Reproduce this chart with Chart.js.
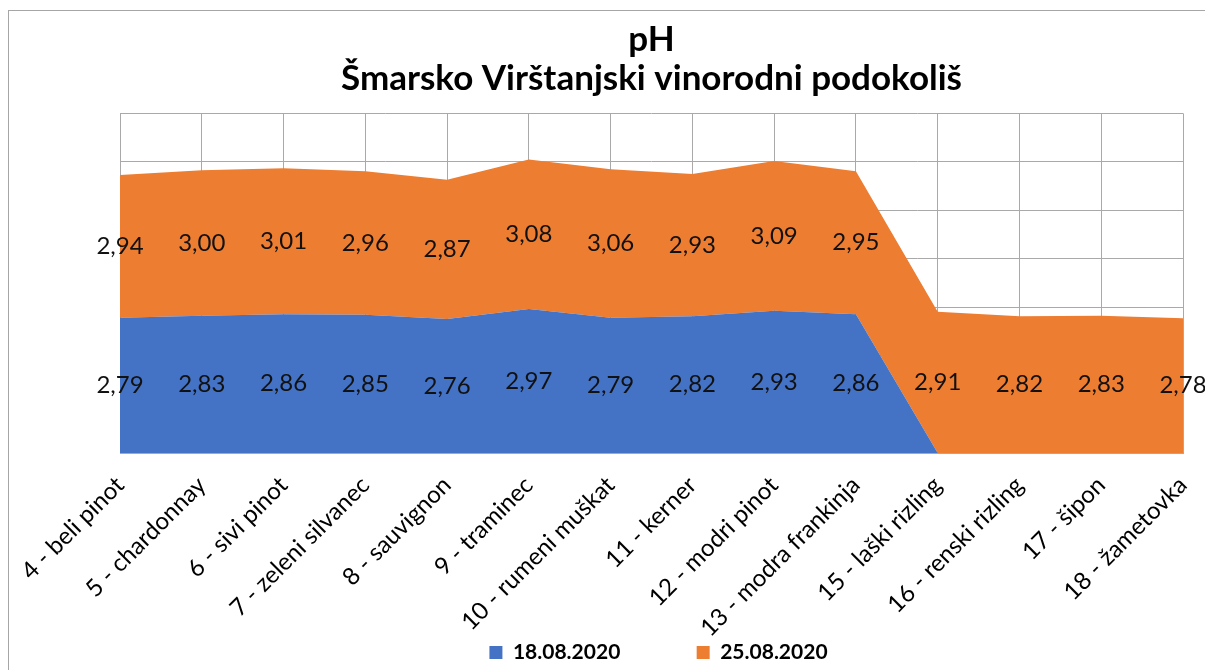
<!DOCTYPE html>
<html>
<head>
<meta charset="utf-8">
<script src="https://cdn.jsdelivr.net/npm/chart.js@4.4.1/dist/chart.umd.min.js"></script>
<style>
  html, body { margin: 0; padding: 0; background: #fff; overflow: hidden; }
  #frame {
    position: absolute; left: 8px; top: 10px;
    width: 1400px; height: 900px;
    border: 1px solid #a6a6a6;
  }
  #pH { position: absolute; left: 0; top: 0; }
</style>
</head>
<body>
<div id="frame"></div>
<canvas id="pH" width="1205" height="670"></canvas>
<script>
const categories = [
  "4 - beli pinot", "5 - chardonnay", "6 - sivi pinot", "7 - zeleni silvanec",
  "8 - sauvignon", "9 - traminec", "10 - rumeni muškat", "11 - kerner",
  "12 - modri pinot", "13 - modra frankinja", "15 - laški rizling",
  "16 - renski rizling", "17 - šipon", "18 - žametovka",
];
const seriesNames = ["18.08.2020", "25.08.2020"];
const ph1808 = [2.79, 2.83, 2.86, 2.85, 2.76, 2.97, 2.79, 2.82, 2.93, 2.86, 0, 0, 0, 0];
const ph2508 = [2.94, 3.00, 3.01, 2.96, 2.87, 3.08, 3.06, 2.93, 3.09, 2.95, 2.91, 2.82, 2.83, 2.78];

const BLUE = "#4472c4";
const ORANGE = "#ed7d31";
const GRID = "#a9a9a9";
const FONT = "Lato, 'Open Sans', sans-serif";

// value labels in the middle of every stacked band
const bandLabels = {
  id: "bandLabels",
  afterLayout(chart) {
    // legend sits a little right of centre in the original
    chart.legend.left += 7;
    chart.legend.right += 7;
  },
  beforeDraw(chart) {
    // let the rotated category names run below the axis box
    chart.scales.x._computeLabelArea = () => undefined;
  },
  afterDatasetsDraw(chart) {
    const ctx = chart.ctx;
    const y = chart.scales.y;
    ctx.save();
    ctx.font = "24px " + FONT;
    ctx.fillStyle = "#111";
    ctx.textAlign = "center";
    ctx.textBaseline = "middle";
    chart.data.datasets.forEach((ds, i) => {
      const meta = chart.getDatasetMeta(i);
      ds.data.forEach((v, j) => {
        if (!v) return;
        let base = 0;
        for (let k = 0; k < i; k++) base += chart.data.datasets[k].data[j];
        const py = y.getPixelForValue(base + v / 2);
        ctx.fillText(v.toFixed(2).replace(".", ","), meta.data[j].x, py);
      });
    });
    ctx.restore();
  },
};

new Chart(document.getElementById("pH"), {
  type: "line",
  data: {
    labels: categories,
    datasets: [
      {
        label: seriesNames[0] + "             ",
        data: ph1808,
        backgroundColor: BLUE,
        borderWidth: 0,
        fill: "origin",
        pointRadius: 0,
        tension: 0,
      },
      {
        label: seriesNames[1],
        data: ph2508,
        backgroundColor: ORANGE,
        borderWidth: 0,
        fill: "-1",
        pointRadius: 0,
        tension: 0,
      },
    ],
  },
  options: {
    responsive: false,
    animation: false,
    layout: { padding: { left: 120, right: 22, top: 8, bottom: -3 } },
    scales: {
      x: {
        grid: { color: GRID, drawTicks: false },
        border: { color: GRID },
        ticks: {
          autoSkip: false,
          minRotation: 45,
          maxRotation: 45,
          padding: 18,
          color: "#000",
          font: { family: FONT, size: 24 },
        },
        afterFit(scale) {
          scale.height = 179;
          scale.paddingLeft = 0;
          scale.paddingRight = 0;
        },
      },
      y: {
        stacked: true,
        min: 0,
        max: 7,
        ticks: { display: false, stepSize: 1 },
        grid: { color: GRID, drawTicks: false },
        border: { display: false },
      },
    },
    plugins: {
      title: {
        display: true,
        text: ["pH", "Šmarsko Virštanjski vinorodni podokoliš"],
        color: "#000",
        font: { family: FONT, size: 35, weight: "bold", lineHeight: 1.12 },
        padding: { top: 12, bottom: 15 },
      },
      legend: {
        position: "bottom",
        labels: {
          color: "#000",
          boxWidth: 13,
          boxHeight: 13,
          padding: 10,
          font: { family: FONT, size: 21, weight: "bold" },
        },
      },
      tooltip: { enabled: false },
    },
  },
  plugins: [bandLabels],
});
</script>
</body>
</html>
